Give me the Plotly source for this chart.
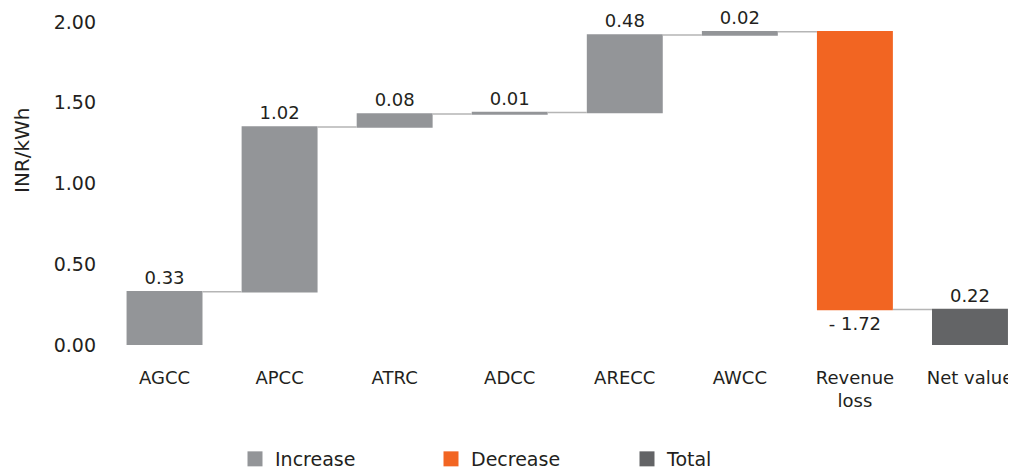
import plotly.graph_objects as go

categories = ["AGCC", "APCC", "ATRC", "ADCC", "ARECC", "AWCC", "Revenue<br>loss", "Net value"]
values = [0.33, 1.02, 0.08, 0.01, 0.48, 0.02, -1.72, 0.22]
measures = ["relative"] * 7 + ["total"]
labels = ["0.33", "1.02", "0.08", "0.01", "0.48", "0.02", "- 1.72", "0.22"]
y_ticks = [0, 0.5, 1.0, 1.5, 2.0]
y_tick_labels = ["0.00", "0.50", "1.00", "1.50", "2.00"]
legend_names = ["Increase", "Decrease", "Total"]

C_INC = "#939598"
C_DEC = "#F26522"
C_TOT = "#636466"
TXT = "#231f20"
FONT = "DejaVu Sans"

# page body has an 8px default margin, so the figure is sized to fit the 1016x471 window
W, H = 1008, 463

fig = go.Figure()
fig.add_trace(go.Waterfall(
    x=categories,
    y=values,
    measure=measures,
    text=labels,
    textposition="outside",
    textfont=dict(size=18, color=TXT, family=FONT),
    constraintext="none",
    cliponaxis=False,
    increasing=dict(marker=dict(color=C_INC)),
    decreasing=dict(marker=dict(color=C_DEC)),
    totals=dict(marker=dict(color=C_TOT)),
    connector=dict(mode="between", line=dict(color="#b5b5b5", width=1.5)),
    showlegend=False,
    hoverinfo="skip",
))

for name, col in zip(legend_names, [C_INC, C_DEC, C_TOT]):
    fig.add_trace(go.Scatter(
        x=[None], y=[None], mode="markers", name=name,
        marker=dict(symbol="square", size=15, color=col),
    ))

fig.update_layout(
    width=W, height=H,
    margin=dict(l=99, r=0, t=14, b=126, autoexpand=False),
    paper_bgcolor="white", plot_bgcolor="white",
    font=dict(family=FONT, size=19, color=TXT),
    waterfallgap=0.34,
    xaxis=dict(
        type="category", range=[-0.5, 7.4], automargin=False,
        showgrid=False, showline=False, zeroline=False,
        ticks="", ticklabelstandoff=20,
        tickfont=dict(size=18, color=TXT, family=FONT),
    ),
    yaxis=dict(
        range=[0, 2.0], tickvals=y_ticks, ticktext=y_tick_labels, automargin=False,
        showgrid=False, showline=False, zeroline=False,
        ticks="", ticklabelstandoff=10,
        tickfont=dict(size=19, color=TXT, family=FONT),
    ),
    legend=dict(
        orientation="h", xref="container", yref="container",
        x=227 / W, xanchor="left", y=12 / H, yanchor="middle",
        font=dict(size=19, color=TXT, family=FONT),
        entrywidth=151, itemsizing="trace",
    ),
    annotations=[dict(
        text="INR/kWh", textangle=-90, showarrow=False,
        xref="paper", yref="paper",
        x=(22 - 107) / 909, y=(345 - 150) / 323,
        xanchor="center", yanchor="middle",
        font=dict(size=20, color=TXT, family=FONT),
    )],
)

fig.write_html("out.html")
